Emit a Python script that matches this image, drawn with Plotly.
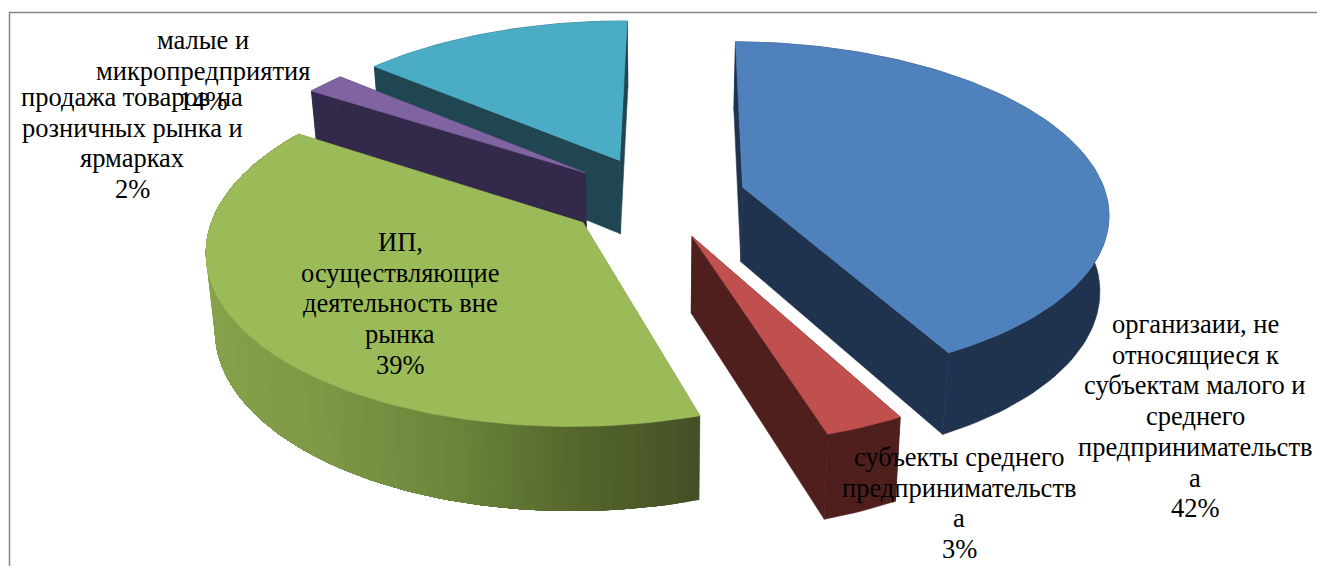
import numpy as np
import plotly.graph_objects as go

# Share of each group, percent, clockwise from twelve o'clock
categories = [
    "организаии, не относящиеся к субъектам малого и среднего предпринимательства",
    "субъекты среднего предпринимательства",
    "ИП, осуществляющие деятельность вне рынка",
    "продажа товаров на розничных рынка и ярмарках",
    "малые и микропредприятия",
]
shares = [42, 3, 39, 2, 14]

label_lines = [
    ["организаии, не", "относящиеся к", "субъектам малого и", "среднего", "предпринимательств", "а"],
    ["субъекты среднего", "предпринимательств", "а"],
    ["ИП,", "осуществляющие", "деятельность вне", "рынка"],
    ["продажа товаров на", "розничных рынка и", "ярмарках"],
    ["малые и", "микропредприятия"],
]

top_colors = ["#4f81bd", "#c0504d", "#9bbb59", "#8064a2", "#4bacc6"]
wall_colors = ["#1f334f", "#4f1f1d", "#6f8a3d", "#33294a", "#1f4651"]

# Perspective camera for the tilted disc
CX, CY, RX, RY = 656.0, 197.0, 364.0, 168.0
PERSP = 0.138
EXPLODE = 0.247
DEPTH = 75.0
CONVERGE = 0.02
START_DEG = 0.6

# Label anchor per slice: centre x and first line y
LABEL_ANCHOR = [(1195, 324), (959, 457), (400, 242), (132, 97), (203, 40)]
LINE_PITCH = 30.7
FONT_SIZE = 26.5

GREEN_RAMP_X = [215, 330, 450, 570, 697]
GREEN_RAMP = [(134, 162, 74), (125, 151, 70), (108, 135, 60), (86, 104, 45), (68, 80, 38)]


def project(X, Y, bottom=False):
    w = 1 + PERSP * Y
    x = CX + RX * X / w
    y = CY - RY * Y / w
    if bottom:
        y = y + DEPTH / w ** 0.7
        x = x - (x - CX) * CONVERGE
    return x, y


def polygon(fig, x, y, color, edge=0.6):
    fig.add_trace(go.Scatter(
        x=list(x), y=list(y), mode="lines", fill="toself", fillcolor=color,
        line=dict(color=color, width=edge), hoverinfo="skip", showlegend=False,
    ))


def ramp_color(x):
    rgb = [np.interp(x, GREEN_RAMP_X, [c[i] for c in GREEN_RAMP]) for i in range(3)]
    return "rgb({:.0f},{:.0f},{:.0f})".format(*rgb)


def draw_slice(fig, a0, a1, top, wall, ramped):
    mid = (a0 + a1) / 2
    ox, oy = EXPLODE * np.sin(mid), EXPLODE * np.cos(mid)
    n = max(int((a1 - a0) / np.radians(1.5)), 4)
    ang = np.linspace(a0, a1, n + 1)
    ax, ay = ox + np.sin(ang), oy + np.cos(ang)
    tx, ty = project(ax, ay)
    bx, by = project(ax, ay, bottom=True)
    ctx, cty = project(np.array([ox]), np.array([oy]))
    cbx, cby = project(np.array([ox]), np.array([oy]), bottom=True)

    # Radial wall on the leading edge
    polygon(fig, [ctx[0], tx[0], bx[0], cbx[0], ctx[0]], [cty[0], ty[0], by[0], cby[0], cty[0]], wall)
    # Rim of the slice; each shaded band also covers the rest of the rim so no seams show
    if ramped:
        for i in range(n):
            polygon(fig, np.r_[tx[i:], bx[i:][::-1], tx[i]], np.r_[ty[i:], by[i:][::-1], ty[i]],
                    ramp_color((bx[i] + bx[i + 1]) / 2), edge=0)
    else:
        polygon(fig, np.r_[tx, bx[::-1], tx[0]], np.r_[ty, by[::-1], ty[0]], wall)
    # Radial wall on the trailing edge
    polygon(fig, [ctx[0], tx[-1], bx[-1], cbx[0], ctx[0]], [cty[0], ty[-1], by[-1], cby[0], cty[0]], wall)
    # Top face
    polygon(fig, np.r_[ctx, tx, ctx], np.r_[cty, ty, cty], top)


fig = go.Figure()

edges = np.radians(START_DEG + np.r_[0, np.cumsum(shares)] * 3.6)
# Painted from the back of the pie to the front
for idx in [4, 3, 0, 1, 2]:
    draw_slice(fig, edges[idx], edges[idx + 1], top_colors[idx], wall_colors[idx], idx == 2)

annotations = []
for lines, share, (ax_x, ax_y) in zip(label_lines, shares, LABEL_ANCHOR):
    for k, text in enumerate(lines + [f"{share}%"]):
        annotations.append(dict(
            x=ax_x, y=ax_y + k * LINE_PITCH, xref="x", yref="y", text=text, showarrow=False,
            xanchor="center", yanchor="middle",
            font=dict(family="Liberation Serif", size=FONT_SIZE, color="#000000"),
        ))

frame = dict(type="path", path="M 9.5 566 L 9.5 12.5 L 1317 12.5", xref="x", yref="y",
             line=dict(color="#868686", width=1.5))

fig.update_layout(
    width=1317, height=566, margin=dict(l=0, r=0, t=0, b=0),
    paper_bgcolor="#ffffff", plot_bgcolor="#ffffff", showlegend=False,
    xaxis=dict(range=[0, 1317], visible=False, fixedrange=True),
    yaxis=dict(range=[566, 0], visible=False, fixedrange=True),
    annotations=annotations, shapes=[frame],
)

fig.write_html("out.html", config=dict(displayModeBar=False))
